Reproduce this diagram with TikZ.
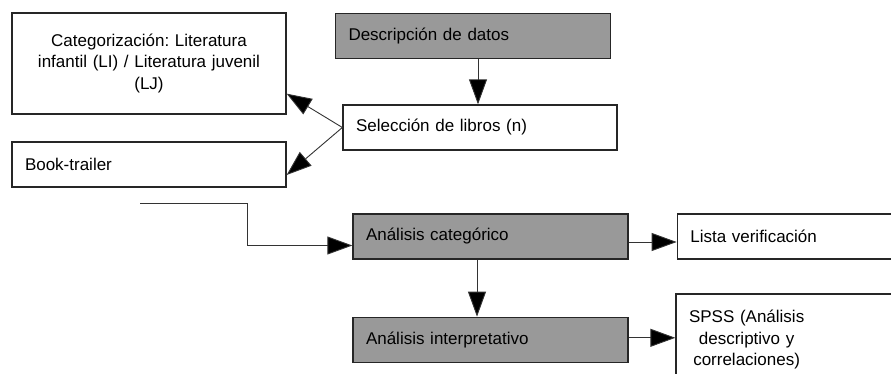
\documentclass[tikz,border=0pt]{standalone}
\usepackage{fontspec}
\setmainfont{Liberation Sans}
\usetikzlibrary{arrows.meta,positioning}

\begin{document}
\begin{tikzpicture}[x=1pt,y=-1pt,
    box/.style={draw=black!85,line width=1.3pt,fill=white,rectangle,inner xsep=13pt,inner ysep=0pt,
      text width=248pt,minimum height=45pt,align=left,font=\fontsize{17}{21.5}\selectfont\frenchspacing},
    graybox/.style={box,fill=gray!80,text width=249pt},
    conn/.style={draw=black!80,line width=0.9pt,-{Triangle[length=25pt,width=18pt,fill=black]}}]
      \useasboundingbox (0,0) rectangle (891,374);
      \clip (0,0) rectangle (891,374);

      \node[graybox] (desc) at (473,36) {Descripción de datos};
      \node[box] (sel) at (480,127.5) {Selección de libros (n)};
      \node[box,minimum height=101pt,align=center] (cat) at (149,63.5)
        {Categorización: Literatura\\infantil (LI) / Literatura juvenil\\(LJ)};
      \node[box] (book) at (149,164.5) {Book-trailer};

      \node[graybox] (acat) at (490.5,236.5) {Análisis categórico};
      \node[graybox,below=57pt of acat] (aint) {Análisis interpretativo};
      \node[box,right=48pt of acat,text width=234pt] (lista) {Lista verificación};
      \node[box,minimum height=92pt,text width=234pt] (spss) at (806,340)
        {\begin{tabular}{@{}c@{}}SPSS (Análisis\\descriptivo y\\correlaciones)\end{tabular}};

      \coordinate (in) at (140,203);

      \draw[conn] ([xshift=5pt]desc.south) -- ([xshift=-2pt]sel.north);
      \draw[conn] (sel.west) -- ([yshift=21pt]cat.south east);
      \draw[conn] (sel.west) -- ([yshift=-10.5pt]book.east);

      \draw[conn] (in) -- ++(107,0) |- ([yshift=-9pt]acat.west);
      \draw[conn] ([yshift=-5.5pt]acat.east) coordinate (a1) -- (a1 -| lista.west);
      \draw[conn] ([xshift=-13.5pt]acat.south) -- ([xshift=-13.5pt]aint.north);
      \draw[conn] ([yshift=2pt]aint.east) coordinate (a2) -- (a2 -| spss.west);
    \end{tikzpicture}
\end{document}
